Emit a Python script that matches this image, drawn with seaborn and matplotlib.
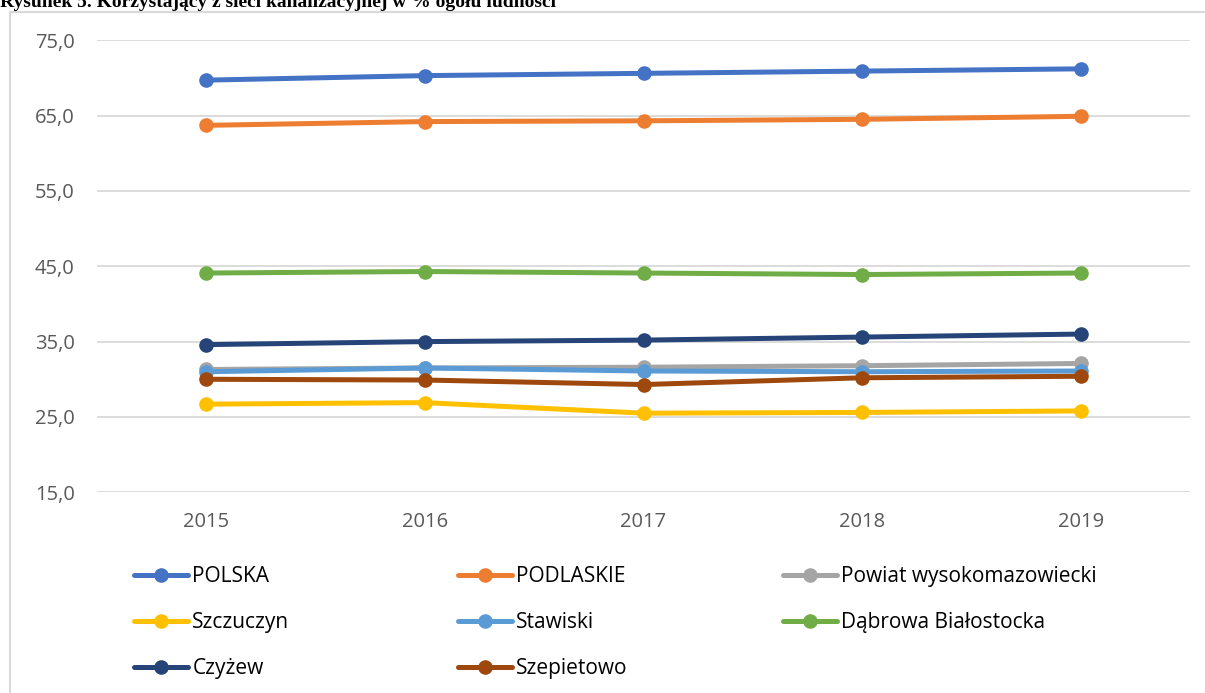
import matplotlib
matplotlib.use("Agg")
import matplotlib.pyplot as plt
import seaborn as sns
import pandas as pd
from matplotlib.lines import Line2D

years = ["2015", "2016", "2017", "2018", "2019"]
polska = [69.7, 70.3, 70.6, 70.9, 71.2]
podlaskie = [63.7, 64.2, 64.3, 64.5, 64.9]
powiat = [31.3, 31.5, 31.6, 31.8, 32.1]
szczuczyn = [26.7, 26.9, 25.5, 25.6, 25.8]
stawiski = [31.0, 31.5, 31.1, 31.0, 31.1]
dabrowa = [44.1, 44.3, 44.1, 43.9, 44.1]
czyzew = [34.6, 35.0, 35.2, 35.6, 36.0]
szepietowo = [30.0, 29.9, 29.3, 30.2, 30.4]

series = [
    ("POLSKA", polska, "#4472C4"),
    ("PODLASKIE", podlaskie, "#ED7D31"),
    ("Powiat wysokomazowiecki", powiat, "#A5A5A5"),
    ("Szczuczyn", szczuczyn, "#FFC000"),
    ("Stawiski", stawiski, "#5B9BD5"),
    ("Dąbrowa Białostocka", dabrowa, "#70AD47"),
    ("Czyżew", czyzew, "#264478"),
    ("Szepietowo", szepietowo, "#9E480E"),
]
yticks = [15, 25, 35, 45, 55, 65, 75]

sns.set_theme(style="white")
plt.rcParams["font.family"] = ["Open Sans", "DejaVu Sans"]

W, H = 1205, 693
fig = plt.figure(figsize=(W / 100, H / 100), dpi=100)
ax = fig.add_axes([97 / W, 1 - 492.3 / H, (1190 - 97) / W, (492.3 - 40.2) / H])

xpos = list(range(len(years)))
handles = {}
for name, vals, col in series:
    df = pd.DataFrame({"x": xpos, "y": vals})
    sns.lineplot(data=df, x="x", y="y", ax=ax, color=col, linewidth=3.6,
                 marker="o", markersize=10.5, markeredgewidth=0, legend=False,
                 solid_capstyle="round")
    handles[name] = Line2D([], [], color=col, linewidth=3.6, marker="o",
                           markersize=10.5, markeredgewidth=0, solid_capstyle="round")

ax.set_xlim(-0.5, 4.5)
ax.set_ylim(15, 75)
ax.set_yticks(yticks)
ax.set_yticklabels([f"{v:.1f}".replace(".", ",") for v in yticks])
ax.set_xticks(xpos)
ax.set_xticklabels(years)
ax.set_xlabel("")
ax.set_ylabel("")
ax.grid(axis="y", color="#d9d9d9", linewidth=1.3)
ax.set_axisbelow(True)
for s in ax.spines.values():
    s.set_visible(False)
ax.tick_params(axis="both", length=0, labelsize=14.5, colors="#595959", pad=14)
ax.tick_params(axis="y", pad=16)

# legend: three columns placed manually
cols = [
    (134, ["POLSKA", "Szczuczyn", "Czyżew"]),
    (458, ["PODLASKIE", "Stawiski", "Szepietowo"]),
    (783, ["Powiat wysokomazowiecki", "Dąbrowa Białostocka"]),
]
for x0, names in cols:
    leg = fig.legend([handles[n] for n in names], names, loc="upper left",
                     bbox_to_anchor=(x0 / W, 1 - 566 / H), frameon=False,
                     fontsize=15, handlelength=2.6, handletextpad=0.2,
                     labelspacing=1.2, borderpad=0, borderaxespad=0)
    for t in leg.get_texts():
        t.set_color("#000000")

# chart border (left and top visible)
fig.add_artist(Line2D([10 / W, 10 / W], [0, 1 - 12 / H], color="#d9d9d9", linewidth=1.5))
fig.add_artist(Line2D([10 / W, 1], [1 - 12 / H, 1 - 12 / H], color="#d9d9d9", linewidth=1.5))

fig.text(0.0, 1 - 7 / H, "Rysunek 5. Korzystający z sieci kanalizacyjnej w % ogółu ludności",
         fontsize=14, fontweight="bold", family=["Liberation Serif", "DejaVu Serif"],
         va="baseline", ha="left", color="#000000")

fig.savefig("out.png", dpi=100)
